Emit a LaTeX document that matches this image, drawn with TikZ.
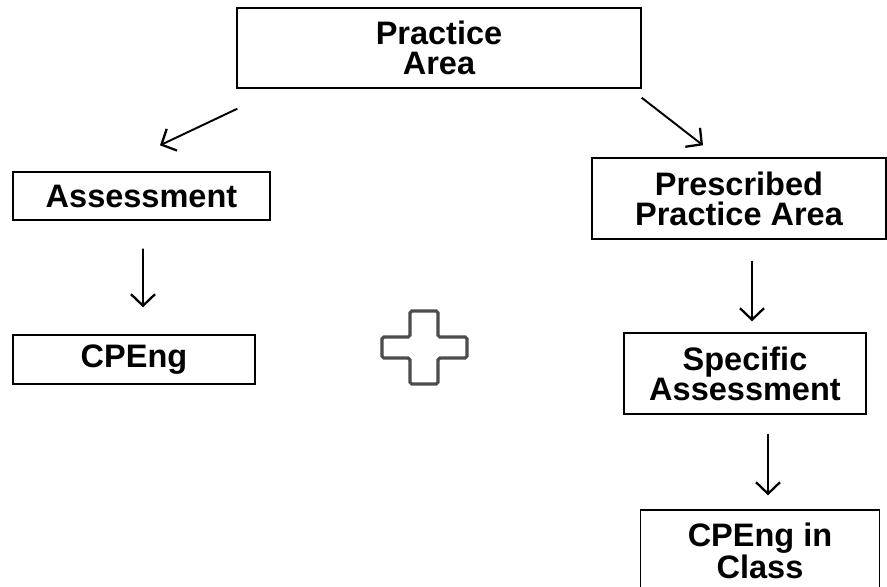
\documentclass[tikz,border=0pt]{standalone}
\usepackage{fontspec}
\setmainfont{Liberation Sans}
\usetikzlibrary{calc,arrows.meta}

\tikzset{
  box/.style={draw, line width=0.8pt, align=center, inner sep=0pt,
    font=\bfseries\fontsize{18.5}{17}\selectfont},
  link/.style={line width=1.1pt, -{Straight Barb[length=2.3mm,width=4.8mm,line width=1.3pt]}}
}

\begin{document}
\begin{tikzpicture}[x=0.02cm, y=-0.02cm]
        \useasboundingbox (0,0) rectangle (887,586);

        % Boxes
        \node[box, minimum width=8.08cm, minimum height=1.6cm] (pa) at (439,48) {Practice\\Area};
        \node[box, minimum width=5.14cm, minimum height=0.96cm] (as) at (141.5,196) {Assessment};
        \node[box, minimum width=5.88cm, minimum height=1.62cm] (ppa) at (739,198.5) {Prescribed\\Practice Area};
        \node[box, minimum width=4.84cm, minimum height=0.98cm] (cp) at (134,359.5) {CPEng};
        \node[box, minimum width=4.84cm, minimum height=1.62cm] (sa) at (745,373.5) {Specific\\Assessment};
        \node[box, minimum width=4.78cm, minimum height=1.62cm] (cc) at (760,550.5) {CPEng in\\Class};

        % Arrows
        \draw[link] ($(pa.south west)+(1,20)$) -- ($(as.north)+(18.5,-26)$);
        \draw[link] ($(pa.south east)+(0,9)$) -- ($(ppa.north)+(-36,-12)$);
        \draw[link] ($(as.south)+(1.5,28)$) -- ($(cp.north)+(9,-27)$);
        \draw[link] ($(ppa.south)+(13,21)$) -- ($(sa.north)+(7,-11)$);
        \draw[link] ($(sa.south)+(23,19)$) -- ($(cc.north)+(8,-14)$);

        % Plus sign
        \draw[line width=1.8pt, black!70, rounded corners=1pt]
          (382,337) -- (410,337) -- (410,311) -- (438,311) -- (438,337) -- (467,337)
          -- (467,358) -- (438,358) -- (438,384) -- (410,384) -- (410,358) -- (382,358) -- cycle;
\end{tikzpicture}
\end{document}
